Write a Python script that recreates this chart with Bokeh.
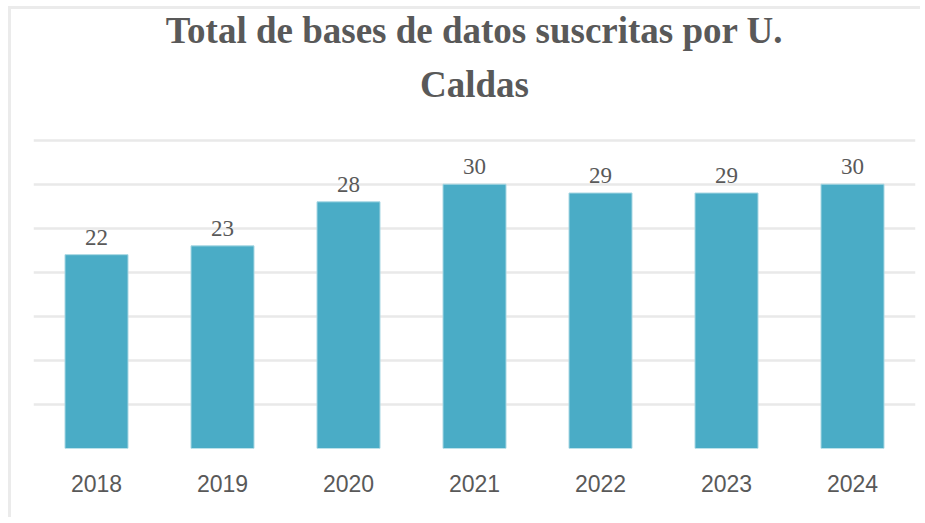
from bokeh.plotting import figure
from bokeh.models import ColumnDataSource, Title, LabelSet, Range1d
from bokeh.embed import file_html
from bokeh.resources import INLINE

years = ["2018", "2019", "2020", "2021", "2022", "2023", "2024"]
totals = [22, 23, 28, 30, 29, 29, 30]
grid_ticks = [5, 10, 15, 20, 25, 30, 35]
title_line1 = "Total de bases de datos suscritas por U."
title_line2 = "Caldas"

src = ColumnDataSource(dict(year=years, total=totals, label=[str(v) for v in totals]))

p = figure(x_range=years, y_range=Range1d(0, 35.3), width=912, height=511,
           output_backend="svg", toolbar_location=None, title=None,
           min_border_left=22, min_border_right=8, min_border_top=128, min_border_bottom=72)
p.margin = (6, 0, 0, 8)
p.styles = {"border-left": "3px solid #EBEBEB", "border-top": "3px solid #EBEBEB",
            "border-right": "0px none", "border-bottom": "0px none"}
p.x_range.range_padding = 0
p.outline_line_color = None
p.background_fill_color = "white"
p.border_fill_color = "white"

p.vbar(x="year", top="total", width=0.5, source=src,
       fill_color="#4AACC6", line_color="#A8D7E3", line_width=1)

labels = LabelSet(x="year", y="total", text="label", source=src,
                  text_align="center", text_baseline="bottom", y_offset=10,
                  text_font="Liberation Sans", text_font_size="23px",
                  text_color="#595959")
p.add_layout(labels)

p.yaxis.visible = False
p.yaxis.ticker = grid_ticks
p.xgrid.grid_line_color = None
p.ygrid.grid_line_color = "#E9E9E9"
p.ygrid.grid_line_width = 2.5

ax = p.xaxis[0]
ax.axis_line_color = None
ax.major_tick_line_color = None
ax.minor_tick_line_color = None
ax.major_tick_out = 0
ax.major_tick_in = 0
ax.major_label_standoff = 26
ax.major_label_text_font = "Liberation Sans"
ax.major_label_text_font_size = "23px"
ax.major_label_text_color = "#595959"

spacer = Title(text=" ", align="center", text_font_size="10px", standoff=7)
t2 = Title(text=title_line2, align="center", text_font="Liberation Serif",
           text_font_size="37px", text_font_style="bold", text_color="#595959",
           standoff=26)
t1 = Title(text=title_line1, align="center", text_font="Liberation Serif",
           text_font_size="37px", text_font_style="bold", text_color="#595959",
           standoff=-5)
p.add_layout(spacer, "above")
p.add_layout(t2, "above")
p.add_layout(t1, "above")

open("out.html", "w").write(file_html(p, INLINE))
